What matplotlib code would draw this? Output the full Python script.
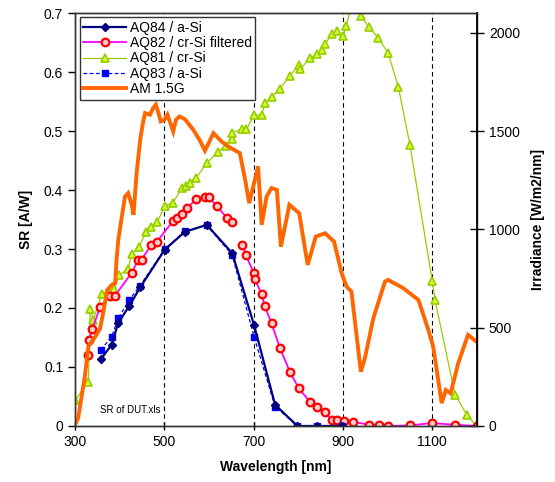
import numpy as np
import matplotlib
matplotlib.use("Agg")
import matplotlib.pyplot as plt

plt.rcParams['font.family'] = ['Liberation Sans', 'DejaVu Sans']

# Spectral response of the devices under test [A/W]
aq84_nm = [358, 382, 397, 422, 446, 501, 546, 595, 652, 701, 748, 798, 841, 897]
aq84_sr = [0.113, 0.138, 0.175, 0.204, 0.235, 0.299, 0.329, 0.341, 0.293, 0.171,
           0.036, 0.0, 0.0, 0.0]

aq83_nm = [358, 382, 397, 422, 446, 501, 546, 595, 652, 701, 748, 798, 841, 897]
aq83_sr = [0.129, 0.151, 0.183, 0.214, 0.238, 0.300, 0.330, 0.340, 0.290, 0.151,
           0.033, 0.0, 0.0, 0.0]

aq82_nm = [330, 332, 339, 356, 378, 390, 427, 442, 449, 470, 483, 519, 528, 540, 550,
           571, 592, 600, 617, 640, 651, 663, 675, 683, 700, 703, 718, 725, 740, 759,
           781, 801, 826, 841, 860, 875, 886, 902, 923, 959, 981, 1001, 1050, 1099,
           1151, 1200]
aq82_sr = [0.120, 0.146, 0.165, 0.201, 0.221, 0.221, 0.260, 0.282, 0.282, 0.306, 0.312,
           0.347, 0.352, 0.359, 0.369, 0.384, 0.388, 0.388, 0.373, 0.353, 0.345, np.nan,
           0.307, 0.289, 0.260, 0.249, 0.223, 0.203, 0.174, 0.132, 0.092, 0.064, 0.041,
           0.033, 0.023, 0.010, 0.011, 0.008, 0.007, 0.002, 0.001, 0.0, 0.001, 0.005,
           0.002, 0.0]

aq81_nm = [301, 330, 334, 341, 360, 388, 399, 419, 427, 443, 460, 470, 484, 501, 519,
           539, 548, 557, 572, 595, 621, 637, 651, 652, 673, 684, 701, 718, 725, 740,
           759, 781, 801, 804, 826, 841, 852, 860, 875, 886, 901, 907, 922, 940, 958,
           979, 1001, 1024, 1050, 1100, 1106, 1151, 1177, 1199]
aq81_sr = [0.044, 0.075, 0.198, 0.180, 0.224, 0.233, 0.256, 0.266, 0.291, 0.304, 0.329,
           0.338, 0.345, 0.373, 0.378, 0.403, 0.407, 0.412, 0.421, 0.446, 0.465, 0.475,
           0.486, 0.497, 0.503, 0.503, 0.527, 0.527, 0.547, 0.557, 0.572, 0.593, 0.612,
           0.605, 0.623, 0.630, 0.637, 0.647, 0.665, 0.670, 0.661, 0.678, 0.720, 0.695,
           0.676, 0.658, 0.632, 0.575, 0.476, 0.245, 0.214, 0.053, 0.019, 0.0]

# AM 1.5G reference spectrum [W/m2/nm]
am15_nm = [300, 307, 322, 330, 348, 356, 363, 372, 382, 390, 393, 397, 405, 412, 419,
           427, 431, 438, 446, 452, 457, 468, 475, 481, 487, 492, 500, 507, 520, 526,
           534, 546, 565, 580, 591, 610, 628, 643, 669, 681, 690, 701, 710, 718, 729,
           740, 752, 761, 780, 802, 821, 839, 860, 880, 897, 908, 919, 940, 949, 968,
           994, 1001, 1035, 1069, 1091, 1102, 1121, 1130, 1141, 1158, 1180, 1199]
am15_irr = [5, 40, 250, 404, 463, 495, 573, 690, 717, 726, 845, 947, 1065, 1167, 1184,
            1125, 1074, 1286, 1455, 1540, 1591, 1583, 1617, 1634, 1591, 1549, 1557, 1583,
            1498, 1557, 1574, 1560, 1506, 1450, 1400, 1489, 1447, 1421, 1388, 1252, 1133,
            1235, 1320, 1023, 1167, 1210, 1201, 912, 1125, 1082, 819, 963, 980, 938, 777,
            709, 683, 276, 344, 548, 734, 743, 701, 641, 489, 404, 116, 183, 166, 319,
            463, 429]

x_ticks = [300, 500, 700, 900, 1100]
sr_ticks = [0, 0.1, 0.2, 0.3, 0.4, 0.5, 0.6, 0.7]
irr_ticks = [0, 500, 1000, 1500, 2000]

fig = plt.figure(figsize=(5.55, 4.82), dpi=100)
ax = fig.add_axes([0.1351, 0.1162, 0.7243, 0.8568])
ax2 = ax.twinx()

c_navy = '#000080'
c_mag = '#FF00FF'
c_red = '#FF0000'
c_green = '#99CC00'
c_blue = '#0000FF'
c_orange = '#FF6600'

l81, = ax.plot(aq81_nm, aq81_sr, color=c_green, lw=0.9, marker='^', ms=5.5,
               mfc='#CCFF33', mec=c_green, mew=1.2, label='AQ81 / cr-Si')
l82, = ax.plot(aq82_nm, aq82_sr, color=c_mag, lw=1.3, marker='o', ms=5.5,
               mfc='#FFCCCC', mec=c_red, mew=1.6, label='AQ82 / cr-Si filtered')
l83, = ax.plot(aq83_nm, aq83_sr, color=c_blue, lw=0.9, ls=(0, (3, 2)), marker='s', ms=4,
               mfc=c_blue, mec=c_blue, label='AQ83 / a-Si')
l84, = ax.plot(aq84_nm, aq84_sr, color=c_navy, lw=1.6, marker='D', ms=4.5,
               mfc=c_navy, mec=c_navy, label='AQ84 / a-Si')
lam, = ax2.plot(am15_nm, am15_irr, color=c_orange, lw=2.8, solid_joinstyle='miter',
                label='AM 1.5G')

ax.set_xlim(300, 1200)
ax.set_ylim(0, 0.7)
ax2.set_ylim(0, 2100)
ax.set_xticks(x_ticks)
ax.set_yticks(sr_ticks)
ax.set_yticklabels(['0', '0.1', '0.2', '0.3', '0.4', '0.5', '0.6', '0.7'])
ax2.set_yticks(irr_ticks)

for xv in x_ticks[1:]:
    ax.axvline(xv, color='black', lw=0.8, ls=(0, (4, 3)), zorder=0)

ax.tick_params(axis='both', labelsize=10, length=5, width=1, color='black')
ax.tick_params(axis='y', direction='out')
ax.tick_params(axis='x', direction='inout', length=6)
ax2.tick_params(axis='y', labelsize=10, direction='inout', length=10, width=1)

for a in (ax, ax2):
    for s in a.spines.values():
        s.set_linewidth(1.0)
        s.set_color('#333333')
ax2.spines['right'].set_color('black')
ax2.spines['right'].set_linewidth(1.3)

ax.set_xlabel('Wavelength [nm]', fontsize=10, fontweight='bold', labelpad=8)
ax.set_ylabel('SR [A/W]', fontsize=10, fontweight='bold', labelpad=8)
ax2.set_ylabel('Irradiance [W/m2/nm]', fontsize=10, fontweight='bold', labelpad=8)

ax.text(356, 0.027, 'SR of DUT.xls', fontsize=7, ha='left', va='center')

leg = ax2.legend(handles=[l84, l82, l81, l83, lam], loc='upper left',
                 bbox_to_anchor=(0.012, 0.99), fontsize=10, frameon=True,
                 fancybox=False, edgecolor='#333333', framealpha=1,
                 handlelength=3.1, handletextpad=0.25, labelspacing=0.1,
                 borderpad=0.25, borderaxespad=0.0)
leg.get_frame().set_linewidth(1.0)

fig.savefig('out.png', dpi=100)
